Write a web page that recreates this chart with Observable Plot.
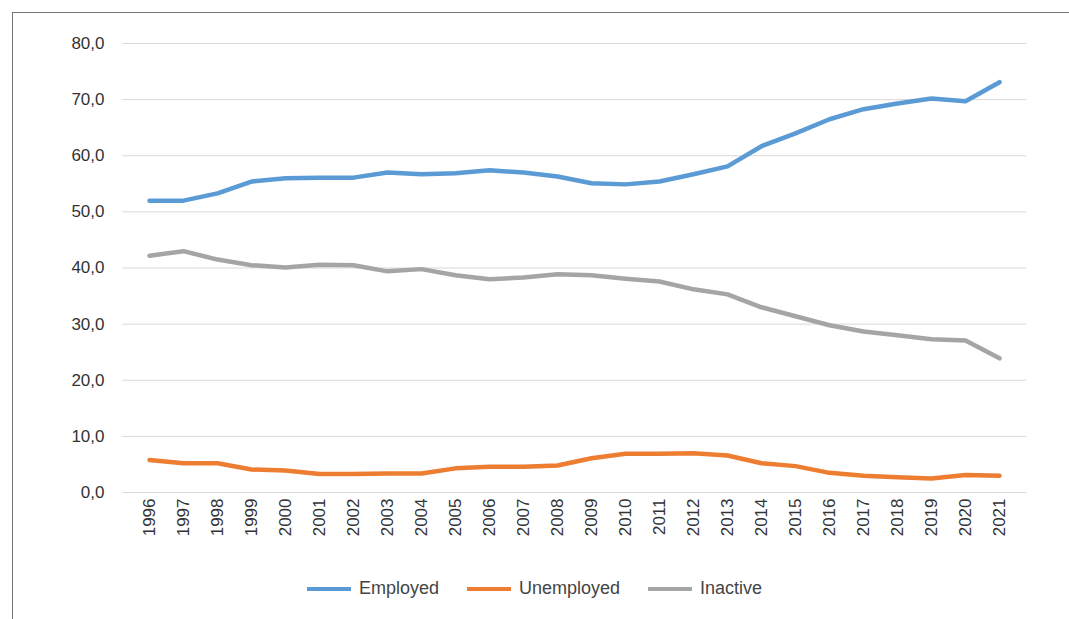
<!DOCTYPE html>
<html><head><meta charset="utf-8">
<script src="https://cdn.jsdelivr.net/npm/d3@7"></script>
<script src="https://cdn.jsdelivr.net/npm/@observablehq/plot@0.6"></script>
<style>
body{margin:0;background:#fff;font-family:"Liberation Sans",Arial,sans-serif;}
#frame{position:absolute;left:12px;top:12px;width:1100px;height:700px;border-left:1px solid #777;border-top:1px solid #777;}
#chart{position:absolute;left:0;top:0;}
#legend{position:absolute;top:578px;left:0;width:1069px;text-align:center;font-size:18px;color:#444;}
#legend span{margin:0 14px;}
#legend i{display:inline-block;width:44px;height:4px;vertical-align:middle;margin-right:8px;}
</style></head><body>
<div id="frame"></div>
<div id="chart"></div>
<div id="legend"></div>
<script>
const years = d3.range(1996, 2022);
const employed = [52.0,52.0,53.3,55.4,56.0,56.1,56.1,57.0,56.7,56.9,57.4,57.0,56.3,55.1,54.9,55.4,56.7,58.1,61.7,64.0,66.5,68.3,69.3,70.2,69.7,73.1];
const unemployed = [5.8,5.2,5.2,4.1,3.9,3.3,3.3,3.4,3.4,4.3,4.6,4.6,4.8,6.1,6.9,6.9,7.0,6.6,5.2,4.7,3.5,3.0,2.7,2.5,3.1,3.0];
const inactive = [42.2,43.0,41.5,40.5,40.1,40.6,40.5,39.4,39.8,38.7,38.0,38.3,38.9,38.7,38.1,37.6,36.2,35.3,33.0,31.4,29.8,28.7,28.0,27.3,27.1,23.9];
const seriesNames = ["Employed","Unemployed","Inactive"];
const colors = ["#5b9bd5","#ed7d31","#a5a5a5"];
const all = [employed, unemployed, inactive];
const rows = [];
all.forEach((s, k) => s.forEach((v, i) => rows.push({year: String(years[i]), value: v, series: seriesNames[k]})));

const chart = Plot.plot({
  width: 1069, height: 560,
  marginLeft: 122, marginRight: 43, marginTop: 43, marginBottom: 68,
  style: {fontSize: "17px", fontFamily: "Liberation Sans, Arial, sans-serif", color: "#333", background: "transparent"},
  x: {type: "point", domain: years.map(String), padding: 0.5, label: null, tickRotate: -90, tickSize: 0, tickPadding: 6},
  y: {domain: [0, 80], ticks: d3.range(0, 81, 10), tickFormat: d => d.toFixed(1).replace(".", ","), label: null, tickSize: 0, tickPadding: 18},
  color: {domain: seriesNames, range: colors},
  marks: [
    Plot.gridY(d3.range(10, 81, 10), {stroke: "#d9d9d9", strokeOpacity: 1}),
    Plot.ruleY([0], {stroke: "#d9d9d9"}),
    Plot.line(rows, {x: "year", y: "value", z: "series", stroke: "series", strokeWidth: 4.5, curve: "linear"})
  ]
});
document.getElementById("chart").append(chart);
document.getElementById("legend").innerHTML = seriesNames.map((n, k) => `<span><i style="background:${colors[k]}"></i>${n}</span>`).join("");
</script>
</body></html>
